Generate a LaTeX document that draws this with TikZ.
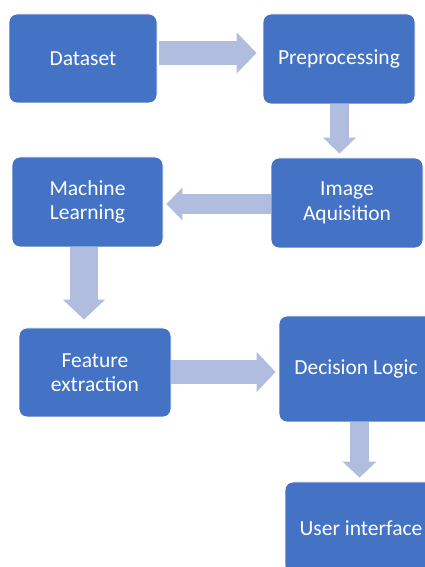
\documentclass[tikz,border=0pt]{standalone}
\usepackage{fontspec}
\setmainfont{Carlito}
\usetikzlibrary{arrows.meta,calc}
\definecolor{boxblue}{RGB}{68,114,196}
\definecolor{arrblue}{RGB}{177,189,223}
\tikzset{
  stepbox/.style={draw=white, line width=0.8pt, fill=boxblue, rounded corners=8pt,
    text=white, align=center, inner sep=0pt,
    font=\fontsize{21.5}{24.5}\selectfont},
  flow/.style n args={3}{draw=arrblue, line width=#1,
    -{Triangle[width=#2, length=#3]}}
}
\begin{document}
\begin{tikzpicture}[x=1pt,y=1pt]
\useasboundingbox (0,0) rectangle (425,567);
\clip (0,0) rectangle (425,567);
% boxes
\node[stepbox, minimum width=148pt, minimum height=89pt] (d)  at (83,508.5) {Dataset};
\node[stepbox, minimum width=152pt, minimum height=90pt] (p)  at (339,508) {Preprocessing};
\node[stepbox, minimum width=151pt, minimum height=90pt] (ml) at (87.5,365) {Machine\\Learning};
\node[stepbox, minimum width=152pt, minimum height=90pt] (ia) at (347,364) {Image\\Aquisition};
\node[stepbox, minimum width=152pt, minimum height=89pt] (fe) at (95,194.5) {Feature\\extraction};
\node[stepbox, minimum width=154pt, minimum height=106pt] (dl) at (356,198) {Decision Logic};
\node[stepbox, minimum width=152pt, minimum height=92pt] (ui) at (361,39) {User interface};
% arrows
\path ([yshift=5.5pt]d.east) coordinate (a1s);
\draw[flow={24pt}{40pt}{20pt}, shorten <=2pt, shorten >=6pt] (a1s) -- (a1s -| p.west);
\path ([xshift=0.5pt]p.south) coordinate (a2s);
\draw[flow={19pt}{32pt}{16pt}, shorten >=4pt] (a2s) -- (a2s |- ia.north);
\path ([yshift=-1pt]ia.west) coordinate (a3s);
\draw[flow={20pt}{32pt}{16pt}, shorten >=3pt] (a3s) -- (a3s -| ml.east);
\path ([xshift=-3.5pt]ml.south) coordinate (a4s);
\draw[flow={28pt}{41pt}{20pt}, shorten >=8pt] (a4s) -- (a4s |- fe.north);
\path ([yshift=0.5pt]fe.east) coordinate (a5s);
\draw[flow={24pt}{39pt}{19pt}, shorten >=3pt] (a5s) -- (a5s -| dl.west);
\path ([xshift=3.5pt]dl.south) coordinate (a6s);
\draw[flow={19pt}{33pt}{16pt}, shorten >=4pt] (a6s) -- (a6s |- ui.north);
\end{tikzpicture}
\end{document}
